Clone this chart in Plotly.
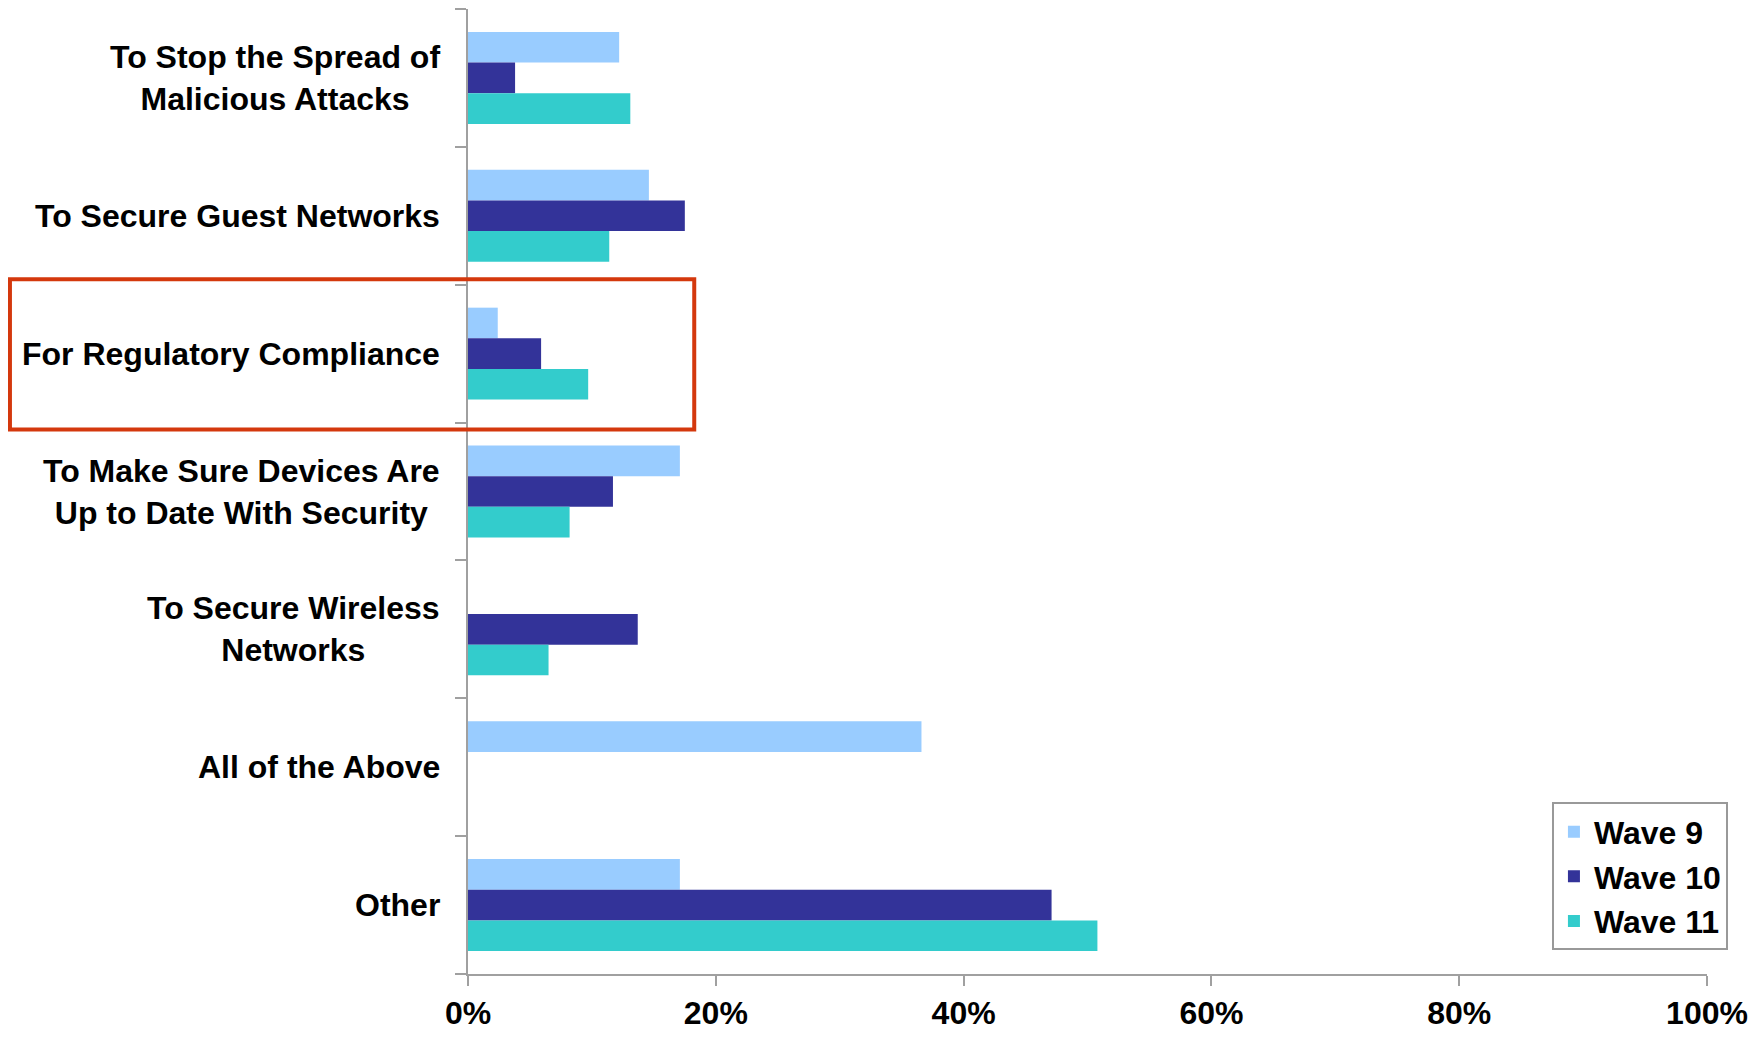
import plotly.graph_objects as go

categories = [
    "To Stop the Spread of<br>Malicious Attacks",
    "To Secure Guest Networks",
    "For Regulatory Compliance",
    "To Make Sure Devices Are<br>Up to Date With Security",
    "To Secure Wireless<br>Networks",
    "All of the Above",
    "Other",
]
series_names = ["Wave 9", "Wave 10", "Wave 11"]
wave9 = [0.122, 0.146, 0.024, 0.171, 0.0, 0.366, 0.171]
wave10 = [0.038, 0.175, 0.059, 0.117, 0.137, 0.0, 0.471]
wave11 = [0.131, 0.114, 0.097, 0.082, 0.065, 0.0, 0.508]
colors = ["#99CCFF", "#333399", "#33CCCC"]
x_ticks = [0, 0.2, 0.4, 0.6, 0.8, 1.0]

FONT = "Liberation Sans, Arial, sans-serif"
AXIS_GREY = "#A0A0A0"

cat_idx = list(range(len(categories)))

fig = go.Figure()
for name, vals, col in zip(series_names, [wave9, wave10, wave11], colors):
    fig.add_trace(go.Bar(
        y=cat_idx, x=vals, name=name, orientation="h",
        marker=dict(color=col, line=dict(width=0)),
    ))

# category labels, centered multi-line text left of axis
for i, c in enumerate(categories):
    fig.add_annotation(
        x=0, xref="paper", xanchor="right", xshift=-26,
        y=i, yref="y", yanchor="middle",
        text=c, showarrow=False, align="center",
        font=dict(family=FONT, size=32, color="black", weight="bold"),
    )

# highlight box around "For Regulatory Compliance"
fig.add_shape(
    type="rect", xref="paper", yref="y",
    x0=-0.3697, x1=0.1826, y0=1.46, y1=2.55,
    line=dict(color="#D4380D", width=4), fillcolor="rgba(0,0,0,0)",
    layer="above",
)

fig.update_layout(
    width=1746, height=1027,
    margin=dict(l=460, r=47, t=1, b=61),
    paper_bgcolor="white", plot_bgcolor="white",
    barmode="group", bargap=0.333, bargroupgap=0,
    font=dict(family=FONT, size=32, color="black", weight="bold"),
    showlegend=True,
    legend=dict(
        x=1.0169, xanchor="right", y=0.0244, yanchor="bottom",
        bordercolor="#999999", borderwidth=2, bgcolor="white",
        font=dict(family=FONT, size=32, color="black", weight="bold"),
        traceorder="normal",
    ),
)
fig.update_xaxes(
    range=[0, 1], tickvals=x_ticks, tickformat=".0%",
    showgrid=False, zeroline=False, automargin=False,
    showline=True, linecolor=AXIS_GREY, linewidth=2,
    ticks="outside", ticklen=10, tickwidth=2, tickcolor=AXIS_GREY,
    tickfont=dict(family=FONT, size=32, color="black", weight="bold"),
    ticklabelstandoff=0,
)
fig.update_yaxes(
    range=[6.5, -0.5], tickvals=[i - 0.5 for i in cat_idx] + [6.5],
    showticklabels=False, showgrid=False, zeroline=False, automargin=False,
    showline=True, linecolor=AXIS_GREY, linewidth=2,
    ticks="outside", ticklen=11, tickwidth=2, tickcolor=AXIS_GREY,
)

fig.write_html("out.html")
